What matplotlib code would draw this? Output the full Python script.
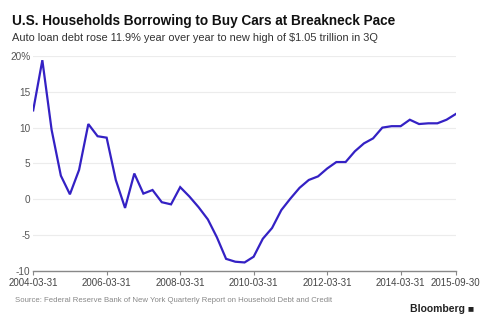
import pandas as pd
import matplotlib.pyplot as plt

# quarterly year-over-year change in auto loan debt, %
quarters = pd.date_range("2004-03-31", "2015-09-30", freq="QE")
growth = [12.4, 19.4, 9.7, 3.3, 0.7, 4.1, 10.5, 8.8, 8.6, 2.7, -1.2, 3.6,
          0.8, 1.3, -0.4, -0.7, 1.7, 0.4, -1.1, -2.8, -5.3, -8.3, -8.7, -8.8,
          -8.0, -5.5, -4.0, -1.5, 0.1, 1.6, 2.7, 3.2, 4.3, 5.2, 5.2, 6.7,
          7.8, 8.5, 10.0, 10.2, 10.2, 11.1, 10.5, 10.6, 10.6, 11.1, 11.9]
tick_dates = ["2004-03-31", "2006-03-31", "2008-03-31", "2010-03-31",
              "2012-03-31", "2014-03-31", "2015-09-30"]
y_ticks = [-10, -5, 0, 5, 10, 15, 20]
y_labels = ["-10", "-5", "0", "5", "10", "15", "20%"]

plt.rcParams['font.family'] = ['Liberation Sans', 'DejaVu Sans']

fig = plt.figure(figsize=(4.88, 3.25), dpi=100)
ax = fig.add_axes([0.068, 0.166, 0.866, 0.662])

ax.plot(quarters, growth, color='#3421c4', linewidth=1.6, solid_joinstyle='miter')

ax.set_xlim(quarters[0], quarters[-1])
ax.set_ylim(-10, 20)
ax.set_yticks(y_ticks)
ax.set_yticklabels(y_labels)
ax.set_xticks(pd.to_datetime(tick_dates))
ax.set_xticklabels(tick_dates)

ax.grid(axis='y', color='#ececec', linewidth=0.8)
ax.set_axisbelow(True)
for side in ['top', 'right', 'left']:
    ax.spines[side].set_visible(False)
ax.spines['bottom'].set_color('#888888')
ax.spines['bottom'].set_linewidth(1.0)
ax.tick_params(axis='y', length=0, pad=2, labelsize=7.2, labelcolor='#555555')
ax.tick_params(axis='x', length=3, color='#888888', pad=2, labelsize=7, labelcolor='#444444')

fig.text(0.025, 0.935, "U.S. Households Borrowing to Buy Cars at Breakneck Pace",
         fontsize=9.8, fontweight='bold', color='#111111', va='center')
fig.text(0.025, 0.883, "Auto loan debt rose 11.9% year over year to new high of $1.05 trillion in 3Q",
         fontsize=7.9, color='#333333', va='center')
fig.text(0.03, 0.074, "Source: Federal Reserve Bank of New York Quarterly Report on Household Debt and Credit",
         fontsize=5.6, color='#888888', va='center')
fig.text(0.972, 0.05, "Bloomberg \u25a0", fontsize=7.5, fontweight='bold', color='#222222',
         va='center', ha='right')

fig.savefig("out.png", dpi=100)
